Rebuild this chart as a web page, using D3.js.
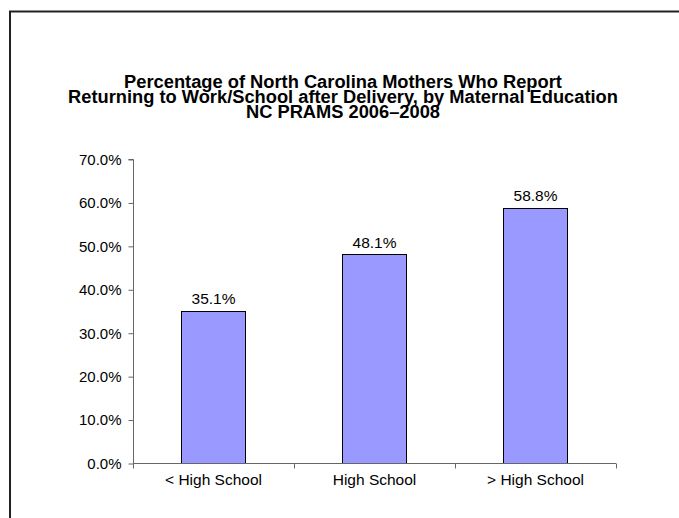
<!DOCTYPE html>
<html><head><meta charset="utf-8">
<script src="https://cdn.jsdelivr.net/npm/d3@7"></script>
<style>html,body{margin:0;padding:0;background:#fff;overflow:hidden}svg{display:block;font-family:"Liberation Sans",Arial,sans-serif}</style>
</head><body><svg id="c" width="679" height="518"></svg>
<script>
const categories = ["< High School", "High School", "> High School"];
const values = [35.1, 48.1, 58.8];
const yTicks = [0, 10, 20, 30, 40, 50, 60, 70];
const titleLines = ["Percentage of North Carolina Mothers Who Report", "Returning to Work/School after Delivery, by Maternal Education", "NC PRAMS 2006\u20132008"];

(function(){
const svg = d3.select("#c");
// frame (open to the right and bottom, as in the reference crop)
svg.append("path").attr("d", "M10,518V11.5H690").attr("fill","none").attr("stroke","#222").attr("stroke-width",2);

const pL = 133, pR = 616, pT = 159, pB = 463;
const x = d3.scaleBand().domain(categories).range([pL, pR]).paddingInner(0.6).paddingOuter(0.3);
const y = d3.scaleLinear().domain([0, 70]).range([pB, pT]);

// title (one text element, three lines)
const t = svg.append("text").attr("text-anchor","middle").attr("font-weight","bold")
  .attr("font-size","18.3px").attr("fill","#000");
t.selectAll("tspan").data(titleLines).join("tspan")
  .attr("x", 343).attr("y", (d,i) => 88 + i*15).text(d => d);

// bars
svg.append("g").selectAll("rect").data(values).join("rect")
  .attr("x", (d,i) => Math.round(x(categories[i])) + 0.5)
  .attr("y", d => Math.round(y(d)) + 0.5)
  .attr("width", Math.round(x.bandwidth()))
  .attr("height", d => Math.round(y(0)) - Math.round(y(d)))
  .attr("fill", "#9999FF").attr("stroke", "#000").attr("stroke-width", 1);

// value labels
svg.append("g").selectAll("text").data(values).join("text")
  .attr("x", (d,i) => x(categories[i]) + x.bandwidth()/2)
  .attr("y", d => y(d) - 6.5)
  .attr("text-anchor","middle").attr("font-size","15.5px").attr("fill","#000")
  .text(d => d.toFixed(1) + "%");

// y axis
const yAxis = d3.axisLeft(y).tickValues(yTicks).tickSize(5).tickPadding(7).tickFormat(d => d.toFixed(1) + "%");
const gy = svg.append("g").attr("transform", `translate(${pL + 0.5},0.5)`).call(yAxis);
gy.select(".domain").attr("stroke","#666").attr("d", `M-5,${y(70)}H0V${y(0)}`);
gy.selectAll(".tick line").attr("stroke","#666");
gy.selectAll(".tick text").attr("font-size","15px").attr("font-family","Liberation Sans, Arial, sans-serif").attr("fill","#000");

// x axis
const xBounds = [pL, pL + (pR-pL)/3, pL + 2*(pR-pL)/3, pR];
const gx = svg.append("g").attr("transform", `translate(0,${pB + 0.5})`);
gx.append("line").attr("x1", pL).attr("x2", pR).attr("stroke","#666");
gx.selectAll("line.tk").data(xBounds).join("line").attr("class","tk")
  .attr("x1", d => Math.round(d)+0.5).attr("x2", d => Math.round(d)+0.5).attr("y1",0).attr("y2",5).attr("stroke","#666");
gx.selectAll("text").data(categories).join("text")
  .attr("x", d => x(d) + x.bandwidth()/2).attr("y", 21)
  .attr("text-anchor","middle").attr("font-size","15.5px").attr("fill","#000").text(d => d);
})();
</script></body></html>
